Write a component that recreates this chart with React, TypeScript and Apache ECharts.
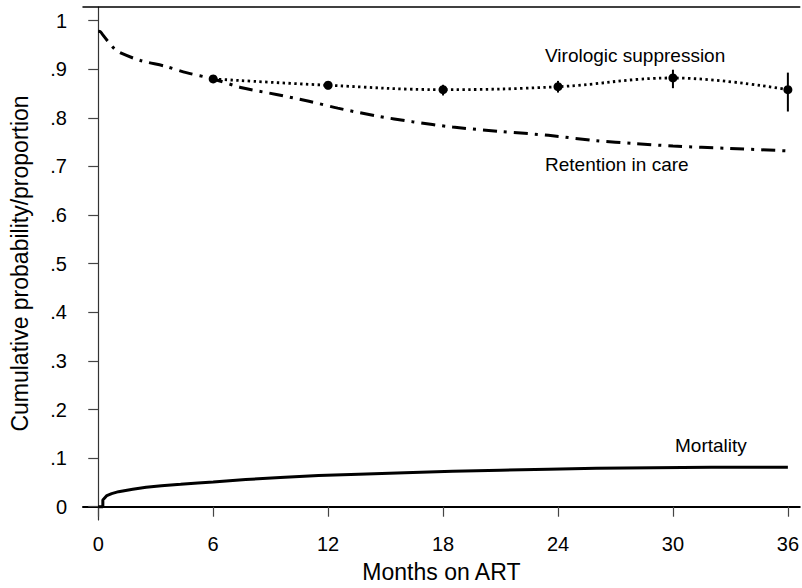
import React, { useEffect, useRef } from "react";
import * as echarts from "echarts";

// Axis ticks
const xTicks = [0, 6, 12, 18, 24, 30, 36];
const yTicks = [0, 0.1, 0.2, 0.3, 0.4, 0.5, 0.6, 0.7, 0.8, 0.9, 1];

// Retention in care (Kaplan-Meier style curve): [month, probability]
const retention: [number, number][] = [
  [0, 0.978], [0.12, 0.977], [0.25, 0.970], [0.45, 0.960], [0.85, 0.942],
  [1.2, 0.933], [2.2, 0.918], [3.5, 0.906], [4.6, 0.893], [6, 0.880],
  [7.5, 0.862], [9.3, 0.848], [11, 0.834], [12.5, 0.820], [14.5, 0.804],
  [16.4, 0.792], [18.5, 0.781], [21, 0.772], [23.5, 0.764], [26, 0.753],
  [28, 0.747], [30, 0.742], [33, 0.737], [36, 0.732],
];

// Cumulative mortality: [month, probability]
const mortality: [number, number][] = [
  [0, 0], [0.24, 0], [0.24, 0.014], [0.45, 0.023], [0.7, 0.027],
  [1.06, 0.031], [1.8, 0.036], [2.5, 0.040], [3.3, 0.043], [4.3, 0.046],
  [5.2, 0.049], [6, 0.051], [7.7, 0.056], [9.5, 0.060], [11.5, 0.064],
  [13.6, 0.067], [16, 0.070], [18.5, 0.073], [21, 0.075], [23.5, 0.077],
  [26, 0.079], [32, 0.081], [36, 0.081],
];

// Virologic suppression proportion with confidence limits
const vsMonths = [6, 12, 18, 24, 30, 36];
const vsValues = [0.880, 0.867, 0.858, 0.864, 0.882, 0.858];
const vsLow = [0.876, 0.859, 0.846, 0.852, 0.861, 0.813];
const vsHigh = [0.884, 0.875, 0.868, 0.876, 0.899, 0.893];

const FONT = "'Liberation Sans', Arial, Helvetica, sans-serif";

const X_MIN = -0.796;
const X_MAX = 36.62;
const Y_MIN = -0.0273;
const Y_MAX = 1.028;

function fmtY(v: number): string {
  if (v === 0) return "0";
  if (v === 1) return "1";
  return String(v).replace(/^0/, "");
}

export default function App() {
  const ref = useRef<HTMLDivElement>(null);

  useEffect(() => {
    if (!ref.current) return;
    const chart = echarts.init(ref.current, null, { renderer: "svg" });

    const vsLine = vsMonths.map((m, i) => [m, vsValues[i]]);
    const vsBars = vsMonths.map((m, i) => [m, vsLow[i], vsHigh[i]]);

    chart.setOption({
      animation: false,
      backgroundColor: "#ffffff",
      textStyle: { fontFamily: FONT },
      grid: { left: 83, right: 0, top: 7, bottom: 66 },
      xAxis: [
        {
          type: "value",
          min: X_MIN,
          max: X_MAX,
          name: "Months on ART",
          nameLocation: "middle",
          nameGap: 40,
          nameTextStyle: { fontSize: 23, color: "#000", fontFamily: FONT },
          splitLine: { show: false },
          axisLine: { show: true, lineStyle: { color: "#000", width: 2 } },
          axisTick: {
            show: true,
            length: 10,
            customValues: xTicks,
            lineStyle: { color: "#444", width: 1.2 },
          },
          axisLabel: {
            customValues: xTicks,
            margin: 14,
            fontSize: 20,
            color: "#000",
            fontFamily: FONT,
          },
        },
        {
          type: "value",
          position: "top",
          min: X_MIN,
          max: X_MAX,
          splitLine: { show: false },
          axisLine: { show: true, lineStyle: { color: "#000", width: 1.5 } },
          axisTick: { show: false },
          axisLabel: { show: false },
        },
      ],
      yAxis: {
        type: "value",
        min: Y_MIN,
        max: Y_MAX,
        name: "Cumulative probability/proportion",
        nameLocation: "middle",
        nameGap: 52,
        nameTextStyle: { fontSize: 23, color: "#000", fontFamily: FONT },
        splitLine: { show: false },
        axisLine: { show: true, lineStyle: { color: "#333", width: 1.2 } },
        axisTick: {
          show: true,
          length: 10,
          customValues: yTicks,
          lineStyle: { color: "#444", width: 1.2 },
        },
        axisLabel: {
          customValues: yTicks,
          margin: 16,
          fontSize: 20,
          color: "#000",
          fontFamily: FONT,
          formatter: (v: number) => fmtY(v),
        },
      },
      series: [
        {
          name: "Retention in care",
          type: "line",
          data: retention,
          showSymbol: false,
          smooth: 0.3,
          lineStyle: { color: "#000", width: 3, type: [14, 7, 3, 7] },
          z: 2,
        },
        {
          name: "Mortality",
          type: "line",
          data: mortality,
          showSymbol: false,
          lineStyle: { color: "#000", width: 3 },
          z: 2,
        },
        {
          name: "Virologic suppression",
          type: "line",
          data: vsLine,
          smooth: 0.4,
          symbol: "circle",
          symbolSize: 9,
          showSymbol: true,
          itemStyle: { color: "#000" },
          lineStyle: { color: "#000", width: 2.8, type: [2.4, 3.4] },
          z: 3,
        },
        {
          name: "Virologic suppression CI",
          type: "custom",
          data: vsBars,
          encode: { x: 0, y: [1, 2] },
          renderItem: (_params: any, api: any) => {
            const m = api.value(0);
            const lo = api.coord([m, api.value(1)]);
            const hi = api.coord([m, api.value(2)]);
            return {
              type: "line",
              shape: { x1: lo[0], y1: lo[1], x2: hi[0], y2: hi[1] },
              style: { stroke: "#000", lineWidth: 2 },
            };
          },
          z: 3,
        },
      ],
      graphic: [
        {
          type: "text",
          left: 545,
          top: 46,
          style: { text: "Virologic suppression", font: `19px ${FONT}`, fill: "#000" },
        },
        {
          type: "text",
          left: 545,
          top: 155,
          style: { text: "Retention in care", font: `19px ${FONT}`, fill: "#000" },
        },
        {
          type: "text",
          left: 675,
          top: 436,
          style: { text: "Mortality", font: `19px ${FONT}`, fill: "#000" },
        },
      ],
    });

    return () => chart.dispose();
  }, []);

  return (
    <div
      ref={ref}
      style={{ position: "fixed", left: 0, top: 0, width: 802, height: 588 }}
    />
  );
}
